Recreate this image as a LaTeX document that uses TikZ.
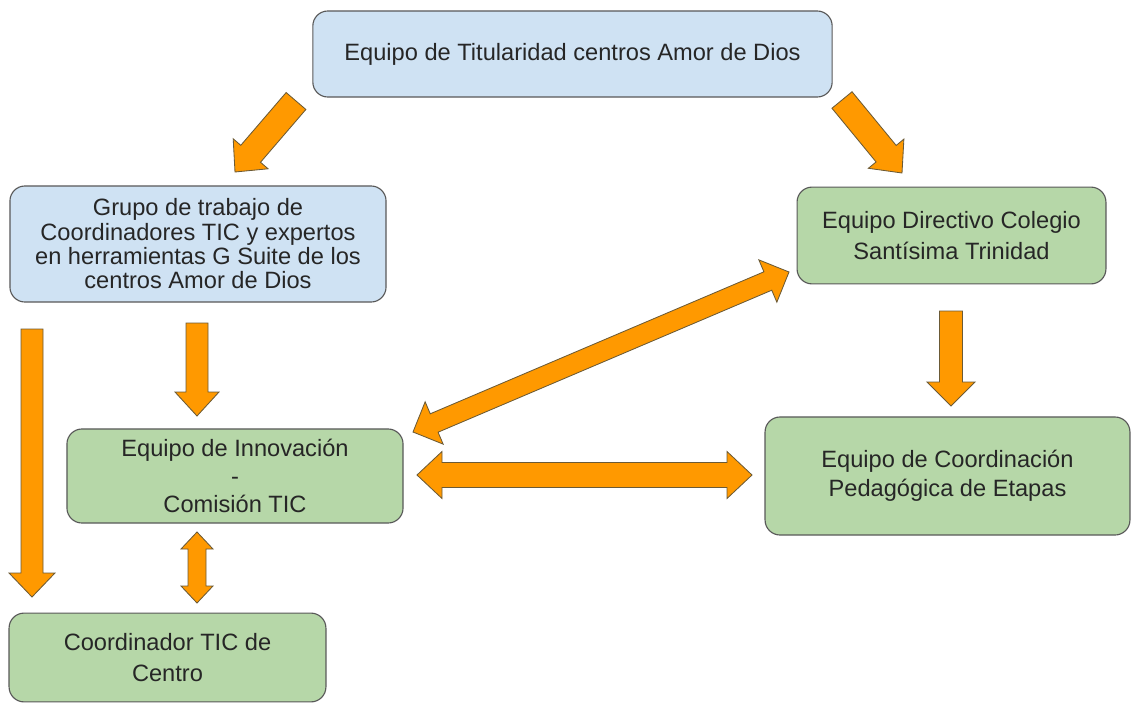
\documentclass[tikz,border=0pt]{standalone}
\usepackage{fontspec}
\setmainfont{Liberation Sans}
\usetikzlibrary{calc}
\definecolor{boxblue}{HTML}{CFE2F3}
\definecolor{boxgreen}{HTML}{B6D7A8}
\definecolor{boxline}{HTML}{595959}
\definecolor{arrowfill}{HTML}{FF9900}
\definecolor{arrowline}{HTML}{6B5A36}
\tikzset{
  unit/.style = {rounded corners = 15*0.025cm, draw = boxline, line width = 0.8pt,
    align = center, text = black!85, inner sep = 0pt,
    font = \fontsize{16.8pt}{20pt}\selectfont},
  bluebox/.style = {unit, fill = boxblue},
  greenbox/.style = {unit, fill = boxgreen},
  arrowbody/.style = {fill = arrowfill, draw = arrowline, line width = 0.6pt, line join = miter}
}
% block arrow: tail, tip, shaft half width, head half width, head length (px)
\newcommand\fatarrow[5]{%
  \coordinate (h) at ($(#2)!#5*0.025cm!(#1)$);
  \filldraw [arrowbody] ($(#1)!#3*0.025cm!90:(#2)$) -- ($(h)!#3*0.025cm!90:(#2)$)
    -- ($(h)!#4*0.025cm!90:(#2)$) -- (#2) -- ($(h)!#4*0.025cm!-90:(#2)$)
    -- ($(h)!#3*0.025cm!-90:(#2)$) -- ($(#1)!#3*0.025cm!-90:(#2)$) -- cycle;
}
% block arrow with two heads
\newcommand\fatarrows[5]{%
  \coordinate (ha) at ($(#1)!#5*0.025cm!(#2)$);
  \coordinate (hb) at ($(#2)!#5*0.025cm!(#1)$);
  \filldraw [arrowbody] (#1) -- ($(ha)!#4*0.025cm!90:(#2)$) -- ($(ha)!#3*0.025cm!90:(#2)$)
    -- ($(hb)!#3*0.025cm!90:(#2)$) -- ($(hb)!#4*0.025cm!90:(#2)$) -- (#2)
    -- ($(hb)!#4*0.025cm!-90:(#2)$) -- ($(hb)!#3*0.025cm!-90:(#2)$)
    -- ($(ha)!#3*0.025cm!-90:(#2)$) -- ($(ha)!#4*0.025cm!-90:(#2)$) -- cycle;
}
\begin{document}
\begin{tikzpicture}[x = 0.025cm, y = -0.025cm]
  \useasboundingbox (0, 0) rectangle (1132, 704);
  % boxes
  \node [bluebox, minimum width = 12.98cm, minimum height = 2.15cm] (titular) at (572.5, 54)
    {Equipo de Titularidad centros Amor de Dios};
  \node [bluebox, minimum width = 9.4cm, minimum height = 2.9cm,
    font = \fontsize{16.8pt}{17.3pt}\selectfont] (grupo) at (198, 244)
    {Grupo de trabajo de\\Coordinadores TIC y expertos\\en herramientas G Suite de los\\centros Amor de Dios};
  \node [greenbox, minimum width = 7.72cm, minimum height = 2.42cm,
    font = \fontsize{16.8pt}{22pt}\selectfont] (directivo) at (951.5, 235.5)
    {Equipo Directivo Colegio\\Santísima Trinidad};
  \node [greenbox, minimum width = 8.4cm, minimum height = 2.35cm] (innova) at (235, 476)
    {Equipo de Innovación\\-\\Comisión TIC};
  \node [greenbox, minimum width = 9.12cm, minimum height = 2.95cm,
    font = \fontsize{16.8pt}{20.5pt}\selectfont] (pedago) at (947.5, 476)
    {Equipo de Coordinación\\Pedagógica de Etapas};
  \node [greenbox, minimum width = 7.92cm, minimum height = 2.22cm,
    font = \fontsize{16.8pt}{22pt}\selectfont] (coordtic) at (167.5, 657.5)
    {Coordinador TIC de\\Centro};
  % arrow ends
  \coordinate (t1) at (296, 101);  \coordinate (e1) at (235, 172);
  \coordinate (t2) at (842, 100);  \coordinate (e2) at (902, 173);
  \coordinate (t3) at (32, 329);   \coordinate (e3) at (32, 597);
  \coordinate (t4) at (197, 323);  \coordinate (e4) at (197, 416);
  \coordinate (t5) at (951, 311);  \coordinate (e5) at (951, 406);
  \coordinate (d1a) at (413, 432); \coordinate (d1b) at (789, 272);
  \coordinate (d2a) at (417, 475); \coordinate (d2b) at (752, 475);
  \coordinate (d3a) at (197, 532); \coordinate (d3b) at (197, 603);
  % arrows
  \fatarrow{t1}{e1}{13}{23}{24}
  \fatarrow{t2}{e2}{13}{23}{25}
  \fatarrow{t3}{e3}{11}{23}{24}
  \fatarrow{t4}{e4}{11}{22}{24}
  \fatarrow{t5}{e5}{11.5}{24}{24}
  \fatarrows{d1a}{d1b}{10}{23}{23}
  \fatarrows{d2a}{d2b}{12.5}{23.5}{25}
  \fatarrows{d3a}{d3b}{9}{16}{17}
\end{tikzpicture}
\end{document}
